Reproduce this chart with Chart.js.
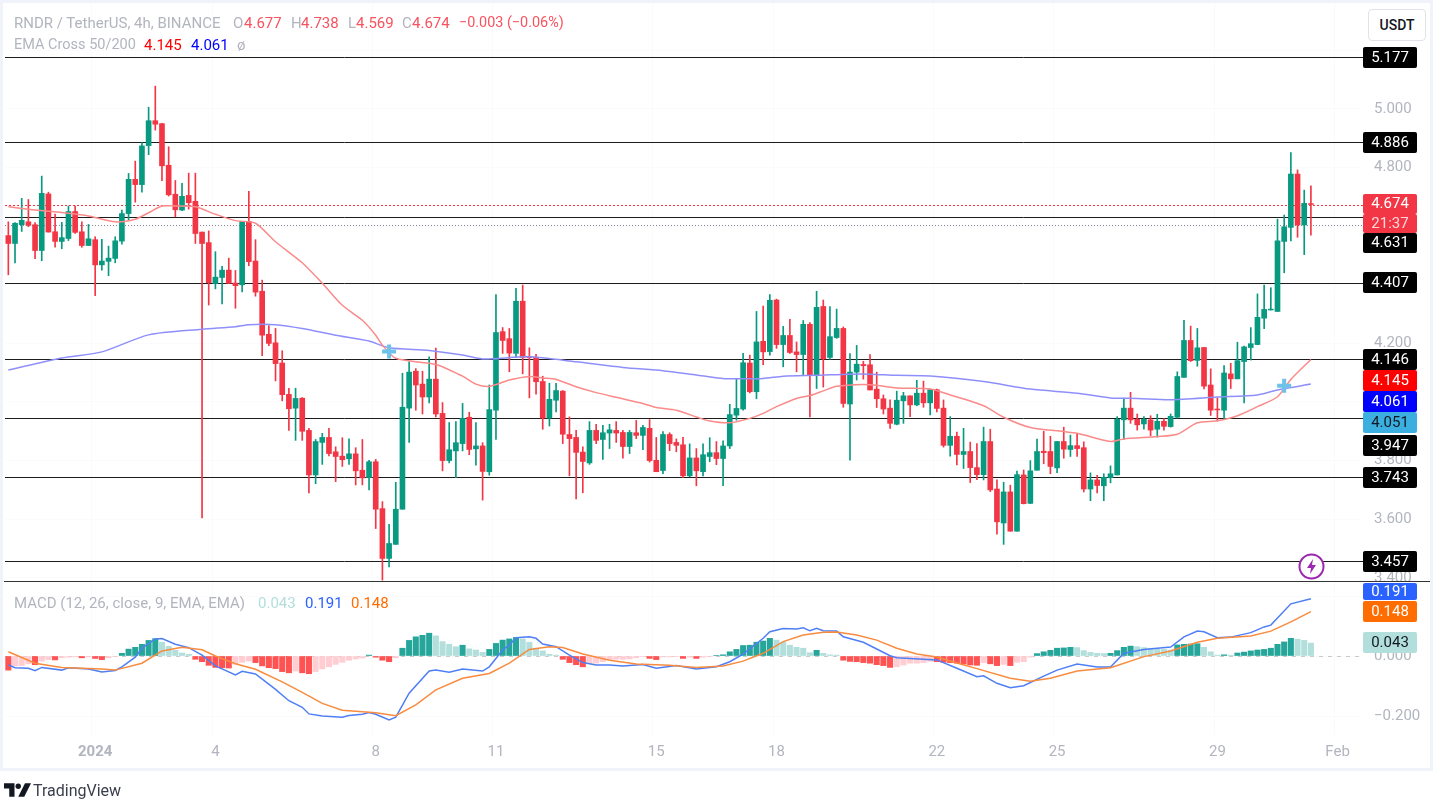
<!DOCTYPE html>
<html>
<head>
<meta charset="utf-8">
<title>RNDR / TetherUS</title>
<script src="https://cdn.jsdelivr.net/npm/chart.js@4"></script>
<style>
  html, body { margin: 0; padding: 0; background: #fff; }
  body { width: 1433px; height: 802px; overflow: hidden; position: relative; font-family: Roboto, sans-serif; }
  canvas { position: absolute; left: 0; }
  #frame { position: absolute; left: 0; top: 0; width: 1427px; height: 765px; border: 3px solid #f0f3fa; pointer-events: none; }
  #divider { position: absolute; left: 4px; top: 581px; width: 1426px; height: 1px; background: #333; }
  .legend span { position: absolute; font-size: 15px; white-space: nowrap; line-height: 16px; }
  .gray { color: #b2b5be; }
  .red { color: #f7525f; }
  #usdt { position: absolute; left: 1368px; top: 9px; width: 56px; height: 30px; border: 1px solid #e0e3eb; border-radius: 4px; text-align: center; line-height: 30px; font-size: 14px; font-weight: 500; color: #131722; background: #fff; }
  #bolt { position: absolute; left: 1298px; top: 553px; }
  #logo { position: absolute; left: 4px; top: 783px; }
  #logoText { position: absolute; left: 33px; top: 782px; font-size: 16px; line-height: 18px; color: #3a3e4a; }
</style>
</head>
<body>
<canvas id="main" width="1433" height="582" style="top:0;width:1433px;height:582px"></canvas>
<canvas id="macd" width="1433" height="220" style="top:582px;width:1433px;height:220px"></canvas>
<div id="frame"></div>
<div id="divider"></div>

<div class="legend">
  <span class="gray" style="left:14px;top:15px">RNDR / TetherUS, 4h, BINANCE</span>
  <span class="gray" style="left:233px;top:15px">O</span><span class="red" style="left:244px;top:15px">4.677</span>
  <span class="gray" style="left:291px;top:15px">H</span><span class="red" style="left:301px;top:15px">4.738</span>
  <span class="gray" style="left:348px;top:15px">L</span><span class="red" style="left:356px;top:15px">4.569</span>
  <span class="gray" style="left:402px;top:15px">C</span><span class="red" style="left:412px;top:15px">4.674</span>
  <span class="red" style="left:459px;top:15px;font-size:14.4px">−0.003 (−0.06%)</span>
  <span class="gray" style="left:14px;top:37px;font-size:14.5px">EMA Cross 50/200</span>
  <span style="left:144px;top:37px;color:#ff0000">4.145</span>
  <span style="left:191px;top:37px;color:#0000ff">4.061</span>
  <span class="gray" style="left:237px;top:37px">ø</span>
  <span class="gray" style="left:14px;top:595px">MACD (12, 26, close, 9, EMA, EMA)</span>
  <span style="left:258px;top:595px;color:#b2dfdb">0.043</span>
  <span style="left:305px;top:595px;color:#2962ff">0.191</span>
  <span style="left:351px;top:595px;color:#ff6d00">0.148</span>
</div>

<div id="usdt">USDT</div>

<svg id="bolt" width="27" height="27" viewBox="0 0 27 27">
  <circle cx="13.5" cy="13.5" r="12" fill="#fff" stroke="#9c27b0" stroke-width="2"></circle>
  <path d="M15 6 L9 15 H13 L12 21 L18 12 H14 Z" fill="#9c27b0"></path>
</svg>

<svg id="logo" width="27" height="14" viewBox="0 0 36 18">
  <path d="M0 0 H14 V18 H7 V7 H0 Z" fill="#131722"></path>
  <circle cx="19" cy="4" r="3.6" fill="#131722"></circle>
  <path d="M28 0 H36 L27 18 H19 Z" fill="#131722"></path>
</svg>
<div id="logoText">TradingView</div>

<script>
// values, one entry per 4h candle
const opens = [
  4.568,4.541,4.605,4.615,4.605,4.517,4.710,4.581,4.548,4.558,
  4.650,4.581,4.534,4.554,4.468,4.480,4.490,4.549,4.643,4.760,
  4.742,4.875,4.960,4.950,4.808,4.709,4.655,4.705,4.685,4.580,
  4.544,4.404,4.425,4.450,4.406,4.400,4.616,4.481,4.378,4.231,
  4.202,4.133,4.026,3.979,4.013,3.903,3.751,3.862,3.879,3.830,
  3.815,3.806,3.823,3.767,3.742,3.796,3.636,3.466,3.514,3.634,
  3.979,4.105,4.061,4.017,4.078,3.961,3.800,3.833,3.858,3.948,
  3.840,3.850,3.762,3.972,4.240,4.216,4.166,4.344,4.155,4.153,
  4.070,3.945,4.006,4.037,3.889,3.879,3.829,3.792,3.903,3.872,
  3.894,3.903,3.896,3.848,3.895,3.886,3.910,3.801,3.766,3.889,
  3.862,3.854,3.748,3.809,3.762,3.814,3.827,3.807,3.850,3.955,
  3.976,4.133,4.035,4.207,4.172,4.348,4.196,4.227,4.171,4.162,
  4.265,4.092,4.326,4.152,4.220,4.251,3.993,4.102,4.128,4.127,
  4.044,4.011,3.979,3.924,4.004,4.021,3.990,4.030,3.997,4.042,
  3.979,3.852,3.883,3.821,3.831,3.776,3.752,3.865,3.703,3.587,
  3.693,3.559,3.751,3.654,3.767,3.832,3.831,3.775,3.865,3.838,
  3.851,3.844,3.703,3.734,3.714,3.742,3.751,3.939,3.979,3.941,
  3.925,3.939,3.907,3.934,3.916,3.948,4.084,4.210,4.142,4.186,
  4.058,3.976,3.972,4.096,4.079,4.138,4.186,4.196,4.286,4.314,
  4.309,4.548,4.596,4.778,4.604,4.677
];
const highs = [
  4.615,4.612,4.695,4.691,4.612,4.771,4.716,4.641,4.613,4.669,
  4.669,4.615,4.606,4.564,4.555,4.532,4.564,4.655,4.780,4.822,
  4.885,5.006,5.078,4.951,4.871,4.756,4.746,4.781,4.781,4.580,
  4.584,4.513,4.463,4.491,4.449,4.616,4.719,4.554,4.416,4.261,
  4.251,4.175,4.047,4.047,4.015,3.910,3.872,3.893,3.910,3.847,
  3.878,3.874,3.844,3.872,3.801,3.804,3.660,3.582,3.726,4.098,
  4.137,4.114,4.105,4.154,4.184,3.998,3.930,3.933,3.995,3.965,
  3.930,3.861,4.058,4.367,4.254,4.251,4.388,4.399,4.185,4.163,
  4.088,4.064,4.064,4.039,3.949,3.903,3.847,3.933,3.924,3.920,
  3.924,3.933,3.903,3.903,3.937,3.920,3.940,3.879,3.899,3.895,
  3.874,3.879,3.857,3.841,3.857,3.878,3.865,3.867,3.992,4.080,
  4.166,4.160,4.309,4.327,4.367,4.351,4.258,4.282,4.205,4.278,
  4.271,4.378,4.348,4.326,4.317,4.256,4.165,4.193,4.139,4.162,
  4.102,4.024,4.007,4.037,4.033,4.021,4.074,4.071,4.044,4.044,
  4.007,3.950,3.897,3.910,3.863,3.858,3.914,3.907,3.734,3.726,
  3.716,3.764,3.768,3.800,3.873,3.900,3.883,3.866,3.914,3.887,
  3.892,3.864,3.758,3.750,3.755,3.782,3.950,4.013,4.033,3.959,
  3.950,3.953,3.958,3.943,3.959,4.103,4.279,4.259,4.251,4.186,
  4.113,4.014,4.124,4.132,4.204,4.191,4.254,4.369,4.399,4.390,
  4.624,4.638,4.851,4.792,4.723,4.738
];
const lows = [
  4.434,4.475,4.582,4.598,4.489,4.482,4.580,4.528,4.523,4.551,
  4.575,4.528,4.534,4.363,4.450,4.431,4.475,4.539,4.622,4.682,
  4.716,4.844,4.928,4.755,4.703,4.632,4.653,4.658,4.541,3.604,
  4.331,4.386,4.335,4.405,4.320,4.376,4.465,4.361,4.158,4.192,
  4.072,4.004,3.903,3.869,3.869,3.690,3.721,3.787,3.816,3.728,
  3.780,3.787,3.717,3.717,3.700,3.568,3.392,3.437,3.514,3.634,
  3.862,3.972,3.959,3.997,3.949,3.765,3.792,3.742,3.833,3.820,
  3.784,3.665,3.750,3.872,4.166,4.103,4.151,4.096,4.014,4.027,
  3.907,3.918,3.966,3.858,3.748,3.669,3.690,3.787,3.858,3.804,
  3.841,3.862,3.808,3.824,3.875,3.837,3.795,3.762,3.755,3.834,
  3.830,3.742,3.745,3.714,3.748,3.796,3.786,3.714,3.841,3.938,
  3.972,4.031,4.011,4.127,4.160,4.183,4.120,4.166,4.103,4.091,
  3.949,4.046,4.051,4.145,4.217,3.982,3.801,4.075,4.078,4.041,
  3.981,3.959,3.910,3.922,3.927,3.950,3.987,3.982,3.956,3.966,
  3.846,3.815,3.785,3.773,3.725,3.735,3.734,3.694,3.549,3.514,
  3.559,3.559,3.652,3.653,3.767,3.789,3.755,3.759,3.808,3.814,
  3.814,3.693,3.663,3.690,3.663,3.724,3.751,3.872,3.927,3.904,
  3.907,3.885,3.880,3.904,3.914,3.945,4.084,4.138,4.122,4.045,
  3.954,3.935,3.944,4.046,4.079,3.997,4.143,4.196,4.250,4.314,
  4.309,4.441,4.550,4.562,4.503,4.569
];
const closes = [
  4.541,4.610,4.620,4.603,4.517,4.712,4.580,4.548,4.561,4.650,
  4.579,4.534,4.557,4.468,4.481,4.491,4.550,4.643,4.760,4.742,
  4.874,4.960,4.948,4.806,4.707,4.656,4.702,4.680,4.575,4.541,
  4.407,4.426,4.450,4.405,4.397,4.616,4.479,4.375,4.228,4.200,
  4.131,4.025,3.977,4.012,3.900,3.751,3.865,3.879,3.824,3.814,
  3.803,3.823,3.765,3.741,3.796,3.634,3.466,3.517,3.634,3.982,
  4.102,4.058,4.017,4.078,3.959,3.800,3.837,3.861,3.944,3.838,
  3.850,3.763,3.974,4.237,4.210,4.167,4.344,4.152,4.151,4.069,
  3.945,4.009,4.039,3.890,3.875,3.828,3.797,3.903,3.869,3.895,
  3.905,3.894,3.848,3.896,3.886,3.913,3.800,3.762,3.889,3.858,
  3.852,3.748,3.809,3.765,3.820,3.827,3.807,3.850,3.957,3.978,
  4.134,4.035,4.205,4.171,4.347,4.196,4.227,4.169,4.162,4.265,
  4.092,4.323,4.147,4.223,4.251,3.995,4.102,4.129,4.124,4.041,
  4.011,3.976,3.927,4.006,4.021,3.990,4.030,3.997,4.042,3.978,
  3.852,3.883,3.821,3.831,3.776,3.752,3.865,3.700,3.591,3.693,
  3.559,3.752,3.653,3.765,3.831,3.827,3.780,3.865,3.839,3.851,
  3.841,3.703,3.734,3.715,3.743,3.755,3.941,3.979,3.939,3.922,
  3.941,3.904,3.934,3.917,3.951,4.087,4.210,4.141,4.185,4.054,
  3.972,3.973,4.099,4.079,4.141,4.188,4.199,4.289,4.316,4.317,
  4.550,4.598,4.778,4.604,4.678,4.674
];
const histogram = [
  -.047,-.033,-.032,-.026,-.029,-.017,-.012,-.013,-.006,-.004,
  -.003,-.006,-.003,-.008,-.012,-.006,-.002,.009,.023,.029,
  .039,.052,.058,.046,.032,.019,.010,.006,-.011,-.019,
  -.031,-.038,-.039,-.040,-.028,-.021,-.017,-.022,-.033,-.039,
  -.042,-.052,-.056,-.050,-.056,-.059,-.052,-.043,-.036,-.028,
  -.021,-.014,-.010,-.007,.003,-.004,-.014,-.019,-.006,.026,
  .052,.064,.069,.076,.067,.048,.039,.031,.036,.024,
  .020,.012,.022,.042,.053,.057,.062,.057,.046,.026,
  .017,.006,.003,-.011,-.022,-.029,-.036,-.024,-.024,-.019,
  -.012,-.011,-.011,-.010,-.006,-.002,-.008,-.012,-.003,-.003,
  -.002,-.008,-.004,-.008,-.004,-.002,.002,.004,.014,.022,
  .035,.036,.046,.050,.059,.053,.046,.036,.029,.026,
  .011,.019,.009,.004,.003,-.014,-.018,-.019,-.022,-.024,
  -.029,-.032,-.038,-.036,-.030,-.024,-.024,-.022,-.018,-.019,
  -.021,-.022,-.024,-.027,-.030,-.031,-.022,-.026,-.032,-.028,
  -.032,-.021,-.019,-.004,.008,.014,.019,.026,.027,.029,
  .028,.018,.012,.009,.008,.009,.018,.029,.033,.031,
  .028,.026,.023,.022,.020,.037,.039,.040,.041,.029,
  .014,.003,.004,.003,.010,.013,.017,.020,.022,.026,
  .039,.047,.059,.056,.052,.043
];

// the smooth lines were read at the bends only, the candle number goes with each value
const ema50Bars = [0,4,9,12,16,19,21,23,25,28,31,34,37,40,44,47,50,53,55,56,58,64,68,70,72,75,78,80,82,85,88,91,95,97,100,103,105,108,111,113,115,118,120,122,124,128,130,133,138,141,146,149,153,158,160,165,167,172,175,178,181,184,187,190,192,195];
const ema50Values = [4.666,4.655,4.644,4.635,4.615,4.624,4.646,4.669,4.669,4.666,4.641,4.619,4.610,4.547,4.475,4.405,4.33,4.279,4.228,4.194,4.149,4.128,4.088,4.061,4.053,4.075,4.087,4.082,4.077,4.052,4.032,4.016,3.995,3.981,3.972,3.949,3.935,3.929,3.944,3.961,3.984,4.012,4.022,4.038,4.054,4.060,4.057,4.048,4.044,4.024,3.987,3.948,3.913,3.899,3.893,3.865,3.874,3.882,3.890,3.929,3.936,3.953,3.984,4.018,4.077,4.145];
const ema200Bars = [0,8,14,21,29,34,36,40,44,49,54,57,63,68,71,78,85,92,98,103,107,109,113,116,121,126,129,133,138,146,153,160,165,169,174,181,187,190,195];
const ema200Values = [4.109,4.150,4.171,4.229,4.248,4.257,4.264,4.264,4.251,4.228,4.208,4.185,4.176,4.160,4.147,4.154,4.137,4.118,4.107,4.092,4.080,4.079,4.080,4.088,4.091,4.095,4.095,4.091,4.089,4.070,4.044,4.030,4.014,4.012,4.008,4.017,4.024,4.041,4.061];
const macdBars = [0,1,3,4,5,8,9,12,14,16,17,19,20,22,23,25,27,29,31,34,35,37,40,42,44,45,47,50,51,53,54,55,57,58,60,63,64,66,68,71,72,74,75,76,78,79,80,82,84,86,88,90,92,95,97,100,103,106,108,110,113,114,116,118,119,120,121,122,124,125,128,132,133,139,142,145,146,148,150,152,155,157,160,163,165,167,170,174,176,178,179,181,183,186,188,189,192,195];
const macdValues = [-.030,-.039,-.041,-.049,-.038,-.047,-.039,-.043,-.053,-.048,-.036,-.004,.026,.057,.058,.039,.028,.003,-.033,-.063,-.051,-.060,-.111,-.149,-.171,-.193,-.200,-.204,-.198,-.194,-.188,-.194,-.213,-.204,-.124,-.050,-.047,-.054,-.043,-.050,-.036,.020,.037,.061,.064,.059,.040,.031,.003,-.022,-.030,-.030,-.033,-.028,-.041,-.032,-.043,-.036,-.019,.006,.059,.081,.092,.090,.094,.084,.092,.084,.083,.064,.046,.001,-.006,-.013,-.041,-.069,-.066,-.091,-.106,-.099,-.067,-.047,-.027,-.037,-.037,.009,.022,.030,.064,.083,.081,.061,.063,.078,.097,.103,.174,.191];
const signalBars = [0,4,8,14,16,20,23,26,29,31,34,37,41,44,47,50,55,58,61,64,68,72,75,78,81,83,86,90,94,99,103,107,110,113,116,119,122,124,127,130,133,136,139,142,145,150,153,156,160,165,170,174,178,181,186,189,192,195];
const signalValues = [.014,-.024,-.038,-.043,-.047,-.024,.017,.029,.021,0,-.026,-.044,-.086,-.121,-.158,-.181,-.189,-.199,-.163,-.113,-.074,-.058,-.024,.022,.031,.028,.007,-.014,-.027,-.031,-.038,-.033,-.017,.009,.048,.070,.079,.080,.070,.053,.026,.007,-.003,-.023,-.042,-.074,-.084,-.074,-.050,-.039,-.002,.017,.046,.059,.067,.083,.114,.148];

const crossBars = [57, 191];
const crossValues = [4.172, 4.055];

const levels = [5.177, 4.886, 4.631, 4.407, 4.146, 3.947, 3.743, 3.457];
const lastPrice = 4.674;
const countdownPrice = 4.605;

const dateBars = [13, 31, 55, 73, 97, 115, 139, 157, 181, 199];
const dateLabels = ['2024', '4', '8', '11', '15', '18', '22', '25', '29', 'Feb'];
const slotCount = 203; // room for the empty bars right of the last candle

const GREEN = '#089981';
const RED = '#f23645';

const slots = new Array(slotCount).fill('');
dateBars.forEach((b, i) => { slots[b] = dateLabels[i]; });

function sparse(bars, values) {
  const out = new Array(opens.length).fill(null);
  bars.forEach((b, i) => { out[b] = values[i]; });
  return out;
}

const candleColors = closes.map((c, i) => (c >= opens[i] ? GREEN : RED));
const wicks = lows.map((l, i) => [l, highs[i]]);
const bodies = opens.map((o, i) => [o, closes[i]]);
const histColors = histogram.map((v, i) => {
  const prev = i ? histogram[i - 1] : 0;
  if (v >= 0) return v > prev ? '#26a69a' : '#b2dfdb';
  return v < prev ? '#ff5252' : '#ffcdd2';
});

// price tags on the right, pushed apart as in the original so they do not overlap
const mainTags = [
  { text: '5.177', top: 47, h: 21, bg: '#000', fg: '#fff' },
  { text: '4.886', top: 132, h: 21, bg: '#000', fg: '#fff' },
  { text: '4.674', top: 194, h: 20, bg: '#f23645', fg: '#fff' },
  { text: '21:37', top: 214, h: 19, bg: '#f23645', fg: '#ffd7da' },
  { text: '4.631', top: 233, h: 20, bg: '#000', fg: '#fff' },
  { text: '4.407', top: 272, h: 21, bg: '#000', fg: '#fff' },
  { text: '4.146', top: 349, h: 21, bg: '#000', fg: '#fff' },
  { text: '4.145', top: 370, h: 21, bg: '#ff0000', fg: '#fff' },
  { text: '4.061', top: 391, h: 21, bg: '#0000ff', fg: '#fff' },
  { text: '4.051', top: 412, h: 21, bg: '#3bb0e0', fg: '#131722' },
  { text: '3.947', top: 435, h: 21, bg: '#000', fg: '#fff' },
  { text: '3.743', top: 467, h: 21, bg: '#000', fg: '#fff' },
  { text: '3.457', top: 551, h: 21, bg: '#000', fg: '#fff' }
];
const macdTags = [
  { text: '0.191', top: 1, h: 17, bg: '#2962ff', fg: '#fff' },
  { text: '0.148', top: 19, h: 21, bg: '#ff6d00', fg: '#fff' },
  { text: '0.043', top: 50, h: 21, bg: '#b2dfdb', fg: '#131722' }
];

function tagPlugin(tags) {
  return {
    id: 'tags',
    afterDraw(chart) {
      const ctx = chart.ctx;
      ctx.save();
      ctx.font = '15px Roboto, sans-serif';
      ctx.textAlign = 'center';
      ctx.textBaseline = 'middle';
      tags.forEach(t => {
        ctx.fillStyle = t.bg;
        ctx.beginPath();
        ctx.roundRect(1363, t.top, 54, t.h, 2);
        ctx.fill();
        ctx.fillStyle = t.fg;
        ctx.fillText(t.text, 1390, t.top + t.h / 2 + 0.5);
      });
      ctx.restore();
    }
  };
}

function hLine(chart, y, color, dash) {
  const ctx = chart.ctx;
  const area = chart.chartArea;
  ctx.save();
  ctx.strokeStyle = color;
  ctx.lineWidth = 1;
  ctx.setLineDash(dash);
  ctx.beginPath();
  ctx.moveTo(area.left, Math.round(y) + 0.5);
  ctx.lineTo(area.right + 2, Math.round(y) + 0.5);
  ctx.stroke();
  ctx.restore();
}

const levelPlugin = {
  id: 'levels',
  beforeDatasetsDraw(chart) {
    const y = chart.scales.y;
    hLine(chart, y.getPixelForValue(lastPrice), '#f23645', [2, 2]);
    hLine(chart, y.getPixelForValue(countdownPrice), '#868993', [1, 2]);
    levels.forEach(l => hLine(chart, y.getPixelForValue(l), '#1c1c1c', []));
  }
};

const zeroPlugin = {
  id: 'zero',
  beforeDatasetsDraw(chart) {
    hLine(chart, chart.scales.y.getPixelForValue(0), '#c8cad0', [4, 5]);
  }
};

const faintGrid = {
  color: c => (c.tick && c.tick.label ? '#f9fafc' : 'transparent'),
  drawTicks: false
};

// chart.js adds tick padding around the plot, the panes here have to stay flush
function noScalePadding(scale) {
  scale.paddingTop = 0;
  scale.paddingBottom = 0;
  scale.paddingLeft = 0;
  scale.paddingRight = 0;
}

function rightAxis(min, max, topLabel) {
  return {
    position: 'right',
    min,
    max,
    afterFit(scale) {
      scale.width = 72;
      noScalePadding(scale);
    },
    border: { display: false },
    grid: { color: '#fbfbfd', drawTicks: false },
    ticks: {
      stepSize: 0.2,
      includeBounds: false,
      padding: 13,
      color: '#b2b5be',
      font: { family: 'Roboto', size: 15 },
      callback: v => (v > topLabel ? '' : (v < -0.0001 ? '−' : '') + Math.abs(v).toFixed(3))
    }
  };
}

new Chart(document.getElementById('main'), {
  type: 'bar',
  data: {
    labels: slots,
    datasets: [
      { type: 'line', data: sparse(crossBars, crossValues), showLine: false, pointStyle: 'cross', pointRadius: 7, pointBorderWidth: 4, pointBorderColor: '#6cc2e8', order: 0 },
      { type: 'line', data: sparse(ema50Bars, ema50Values), borderColor: '#fb8a8a', borderWidth: 1.5, tension: 0.25, pointRadius: 0, spanGaps: true, order: 1 },
      { type: 'line', data: sparse(ema200Bars, ema200Values), borderColor: '#8f8ffb', borderWidth: 1.5, tension: 0.25, pointRadius: 0, spanGaps: true, order: 2 },
      { data: bodies, backgroundColor: candleColors, barThickness: 5, grouped: false, order: 3 },
      { data: wicks, backgroundColor: candleColors, barThickness: 1, grouped: false, order: 4 }
    ]
  },
  options: {
    responsive: false,
    animation: false,
    layout: { autoPadding: false, padding: { left: 5, top: 0, right: 0, bottom: 1 } },
    plugins: { legend: { display: false }, tooltip: { enabled: false } },
    scales: {
      x: {
        afterFit(scale) {
          scale.height = 0;
          noScalePadding(scale);
        },
        border: { display: false },
        grid: faintGrid,
        ticks: { display: false, autoSkip: false }
      },
      y: rightAxis(3.389, 5.372, 5.1)
    }
  },
  plugins: [levelPlugin, tagPlugin(mainTags)]
});

new Chart(document.getElementById('macd'), {
  type: 'bar',
  data: {
    labels: slots,
    datasets: [
      { type: 'line', data: sparse(signalBars, signalValues), borderColor: '#f98b3f', borderWidth: 1.5, pointRadius: 0, spanGaps: true, order: 0 },
      { type: 'line', data: sparse(macdBars, macdValues), borderColor: '#4f7ff5', borderWidth: 1.5, pointRadius: 0, spanGaps: true, order: 1 },
      { data: histogram, backgroundColor: histColors, barThickness: 5.4, order: 2 }
    ]
  },
  options: {
    responsive: false,
    animation: false,
    layout: { autoPadding: false, padding: { left: 5, top: 0, right: 0, bottom: 34 } },
    plugins: { legend: { display: false }, tooltip: { enabled: false } },
    scales: {
      x: {
        afterFit(scale) {
          scale.height = 33;
          noScalePadding(scale);
        },
        border: { display: false },
        grid: faintGrid,
        ticks: {
          autoSkip: false,
          maxRotation: 0,
          padding: 8,
          color: '#b2b5be',
          font: c => ({ family: 'Roboto', size: 15, weight: c.tick && c.tick.label === '2024' ? 'bold' : 'normal' })
        }
      },
      y: rightAxis(-0.2633, 0.2467, 1)
    }
  },
  plugins: [zeroPlugin, tagPlugin(macdTags)]
});
</script>
</body>
</html>
